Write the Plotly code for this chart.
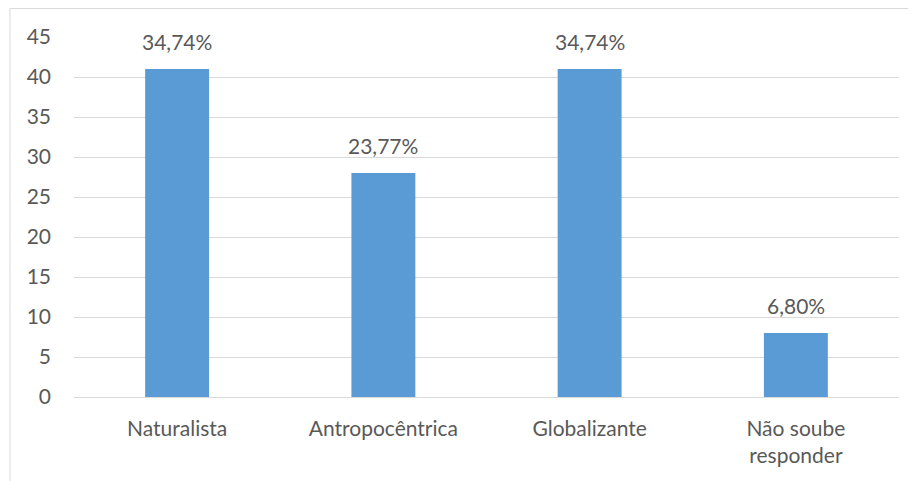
import plotly.graph_objects as go

categories = ["Naturalista", "Antropocêntrica", "Globalizante", "Não soube<br>responder"]
values = [41, 28, 41, 8]
labels = ["34,74%", "23,77%", "34,74%", "6,80%"]
yticks = [0, 5, 10, 15, 20, 25, 30, 35, 40, 45]

font_family = "Lato, Open Sans, sans-serif"
txt_color = "#595959"
fs = 21

fig = go.Figure(go.Bar(
    x=categories, y=values,
    marker=dict(color="#5B9BD5", line=dict(width=0)),
    hoverinfo="skip",
))

annotations = [
    dict(x=c, y=v, text=t, showarrow=False, yanchor="bottom", yshift=13,
         font=dict(size=fs, color=txt_color, family=font_family))
    for c, v, t in zip(categories, values, labels)
]

fig.update_layout(
    width=916, height=481,
    margin=dict(l=66, r=25, t=29, b=92),
    paper_bgcolor="white", plot_bgcolor="white",
    bargap=0.69,
    showlegend=False,
    font=dict(family=font_family, size=fs, color=txt_color),
    xaxis=dict(showgrid=False, showline=False, ticks="", tickfont=dict(size=fs, color=txt_color)),
    yaxis=dict(range=[0, 45], tickvals=yticks, showgrid=True, gridcolor="#D9D9D9", gridwidth=1,
               zeroline=True, zerolinecolor="#D9D9D9", zerolinewidth=1, ticks="",
               tickfont=dict(size=fs, color=txt_color)),
    annotations=annotations,
    shapes=[dict(type="rect", xref="paper", yref="paper", x0=-0.0776, x1=1.2, y0=-0.4, y1=1.0792,
                 line=dict(color="#D9D9D9", width=1), fillcolor="rgba(0,0,0,0)", layer="below")],
)
fig.update_yaxes(ticklabelstandoff=22)
fig.update_xaxes(ticklabelstandoff=17)

fig.write_html("out.html")
